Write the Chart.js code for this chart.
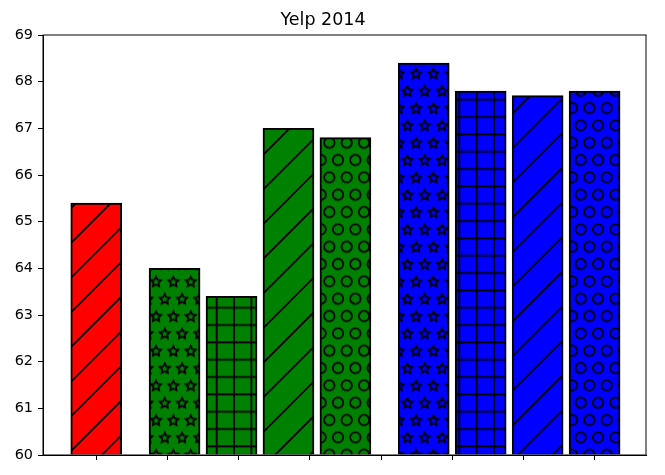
<!DOCTYPE html>
<html>
<head>
<meta charset="utf-8">
<title>Yelp 2014</title>
<script src="https://cdn.jsdelivr.net/npm/chart.js@4.4.1/dist/chart.umd.min.js"></script>
<style>
  html, body { margin: 0; padding: 0; background: #fff; }
  canvas { display: block; }
</style>
</head>
<body>
<canvas id="chart" width="665" height="475"></canvas>
<script>
// bar positions (x units) and scores
const xPositions = [0, 1.1, 1.9, 2.7, 3.5, 4.6, 5.4, 6.2, 7.0];
const scores = [65.4, 64.0, 63.4, 67.0, 66.8, 68.4, 67.8, 67.7, 67.8];
const xTicks = [0, 1, 2, 3, 4, 5, 6, 7];
const yTicks = [60, 61, 62, 63, 64, 65, 66, 67, 68, 69];

// styles
const barColors = ['#ff0000', '#008000', '#008000', '#008000', '#008000',
                   '#0000ff', '#0000ff', '#0000ff', '#0000ff'];
const hatches = ['/', '*', '+', '/', 'o', '*', '+', '/', 'o'];

const U = 104;       // hatch tile size
const S = U / 6;     // hatch cell

function drawStar(g, cx, cy, r) {
    g.beginPath();
    for (let i = 0; i < 10; i++) {
        const a = -Math.PI / 2 + i * Math.PI / 5;
        const rr = i % 2 === 0 ? r : r * 0.5;
        const px = cx + rr * Math.cos(a), py = cy + rr * Math.sin(a);
        if (i === 0) g.moveTo(px, py); else g.lineTo(px, py);
    }
    g.closePath();
    g.stroke();
}

function makePattern(ctx, color, hatch) {
    const tile = document.createElement('canvas');
    tile.width = U;
    tile.height = U;
    const g = tile.getContext('2d');
    g.fillStyle = color;
    g.fillRect(0, 0, U, U);
    g.strokeStyle = '#000';
    g.lineWidth = 1.8;
    let tx = 0, ty = 0;
    if (hatch === '/') {
        g.beginPath();
        for (let k = 0; k <= 6; k++) {
            const c0 = k * U / 3;
            g.moveTo(c0 + 2, -2);
            g.lineTo(c0 - U - 2, U + 2);
        }
        g.stroke();
        tx = 2;
    } else if (hatch === '+') {
        g.beginPath();
        for (let k = 0; k < 6; k++) {
            const v = k * S + S / 2;
            g.moveTo(v, 0); g.lineTo(v, U);
            g.moveTo(0, v); g.lineTo(U, v);
        }
        g.stroke();
        ty = 4.33;
    } else {
        for (let r = 0; r < 6; r++) {
            const y = r * S + S / 2;
            const odd = r % 2 === 1;
            for (let k = 0; k <= 6; k++) {
                const x = k * S + (odd ? 0 : S / 2);
                if (hatch === '*') {
                    drawStar(g, x, y + 0.6, 5.3);
                } else {
                    g.beginPath();
                    g.arc(x, y, 5.2, 0, Math.PI * 2);
                    g.stroke();
                }
            }
        }
        ty = 47.33;
    }
    const pat = ctx.createPattern(tile, 'repeat');
    pat.setTransform(new DOMMatrix().translate(tx, ty));
    return pat;
}

const canvas = document.getElementById('chart');
const ctx = canvas.getContext('2d');
const patterns = barColors.map((c, i) => makePattern(ctx, c, hatches[i]));

const framePlugin = {
    id: 'frame',
    afterDraw(chart) {
        const a = chart.chartArea;
        const c = chart.ctx;
        c.save();
        c.strokeStyle = '#000';
        c.lineWidth = 1;
        c.strokeRect(a.left, a.top, a.right - a.left, a.bottom - a.top);
        c.restore();
    }
};

new Chart(ctx, {
    type: 'bar',
    data: {
        datasets: [{
            data: xPositions.map((x, i) => ({ x: x, y: scores[i] })),
            backgroundColor: patterns,
            borderColor: '#000',
            borderWidth: 2,
            barThickness: 51,
            base: 60
        }]
    },
    plugins: [framePlugin],
    options: {
        responsive: false,
        devicePixelRatio: 1,
        animation: false,
        events: [],
        layout: { padding: { right: 19, top: 0, left: 0, bottom: 0 } },
        plugins: {
            legend: { display: false },
            tooltip: { enabled: false },
            title: {
                display: true,
                text: 'Yelp 2014',
                color: '#000',
                font: { family: 'DejaVu Sans', size: 17.5, weight: 'normal', lineHeight: 1.0 },
                padding: { top: 12, bottom: 5.5 }
            }
        },
        scales: {
            x: {
                type: 'linear',
                min: -0.748,
                max: 7.722,
                offset: false,
                afterBuildTicks: s => { s.ticks = xTicks.map(v => ({ value: v })); },
                afterFit: s => { s.height = 20; },
                ticks: { display: false },
                grid: {
                    display: true,
                    drawOnChartArea: false,
                    drawTicks: true,
                    tickLength: 5,
                    color: '#000',
                    offset: false
                },
                border: { display: true, color: '#000', width: 1 }
            },
            y: {
                type: 'linear',
                min: 60,
                max: 69,
                afterBuildTicks: s => { s.ticks = yTicks.map(v => ({ value: v })); },
                afterFit: s => { s.width = 43; },
                ticks: {
                    color: '#000',
                    padding: 5,
                    font: { family: 'DejaVu Sans', size: 14.4 }
                },
                grid: {
                    display: true,
                    drawOnChartArea: false,
                    drawTicks: true,
                    tickLength: 5,
                    color: '#000'
                },
                border: { display: true, color: '#000', width: 1 }
            }
        }
    }
});
</script>
</body>
</html>
